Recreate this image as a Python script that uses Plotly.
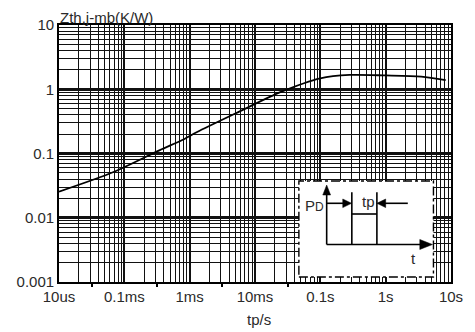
import plotly.graph_objects as go

# Data (pulse width in seconds, Zth in K/W)
tp = [1e-5, 7e-5, 3.5e-4, 7.7e-4, 1.3e-3, 5.1e-3, 0.0255, 0.1, 0.28, 1.0, 3.5, 8.3]
zth = [0.0255, 0.052, 0.113, 0.162, 0.216, 0.423, 0.916, 1.48, 1.67, 1.64, 1.57, 1.39]

x_tickvals = [1e-5, 1e-4, 1e-3, 1e-2, 1e-1, 1, 10]
x_ticktext = ["10us", "0.1ms", "1ms", "10ms", "0.1s", "1s", "10s"]
x_small_ticks = [3.16e-5, 3.16e-4, 3.16e-3, 3.16e-2]
y_tickvals = [0.001, 0.01, 0.1, 1, 10]
y_ticktext = ["0.001", "0.01", "0.1", "1", "10"]

W, H = 475, 332
L, R, T, B = 59, 14, 25, 50
PW, PH = W - L - R, H - T - B


def px(x):
    return (x - L) / PW


def py(y):
    return (H - B - y) / PH


FONT = "Liberation Sans, Arial, sans-serif"
TXT = "#2a2a2a"
GRID = "#111111"

fig = go.Figure()
fig.add_trace(go.Scatter(x=tp, y=zth, mode="lines",
                         line=dict(color="black", width=1.8, shape="spline", smoothing=0.8),
                         hoverinfo="skip", showlegend=False))
# invisible trace to carry the small tick-mark axis
fig.add_trace(go.Scatter(x=[x_small_ticks[0]], y=[1], xaxis="x2", mode="markers",
                         marker=dict(opacity=0), hoverinfo="skip", showlegend=False))

shapes = []
# inset box
shapes.append(dict(type="rect", xref="paper", yref="paper",
                   x0=px(305), x1=px(443), y0=py(277), y1=py(181),
                   fillcolor="white", line=dict(color="black", width=1.4, dash="dashdot"),
                   layer="above"))


def seg(x0, y0, x1, y1, w=1.6):
    shapes.append(dict(type="line", xref="paper", yref="paper",
                       x0=px(x0), y0=py(y0), x1=px(x1), y1=py(y1),
                       line=dict(color="black", width=w), layer="above"))


def tri(pts):
    path = "M " + " L ".join(f"{px(a):.5f},{py(b):.5f}" for a, b in pts) + " Z"
    shapes.append(dict(type="path", xref="paper", yref="paper", path=path,
                       fillcolor="black", line=dict(color="black", width=0.5), layer="above"))


# axes of the pulse diagram
seg(333.5, 244.5, 333.5, 192)
tri([(333.5, 185), (329.5, 195), (337.5, 195)])
seg(333.5, 244.5, 432, 244.5)
tri([(442, 244.5), (429, 239.5), (429, 249.5)])
# pulse
seg(359.3, 244.5, 359.3, 192.3)
seg(385, 244.5, 385, 192.3)
seg(359.3, 214, 385, 214)
# tp arrows
seg(333.5, 203.3, 352, 203.3)
tri([(359, 203.3), (350, 199), (350, 207.6)])
seg(416.7, 203.3, 392, 203.3)
tri([(385, 203.3), (394, 199), (394, 207.6)])

annotations = [
    dict(text="Zth,j-mb(K/W)", xref="paper", yref="paper", x=px(58), y=py(17),
         xanchor="left", yanchor="middle", showarrow=False,
         font=dict(family=FONT, size=15, color=TXT)),
    dict(text="tp/s", xref="paper", yref="paper", x=px(264), y=py(319),
         xanchor="center", yanchor="middle", showarrow=False,
         font=dict(family=FONT, size=15, color=TXT)),
    dict(text="P<span style='font-size:12px'>D</span>", xref="paper", yref="paper",
         x=px(321), y=py(205), xanchor="center", yanchor="middle", showarrow=False,
         font=dict(family=FONT, size=15, color=TXT)),
    dict(text="tp", xref="paper", yref="paper", x=px(376), y=py(201.5),
         xanchor="center", yanchor="middle", showarrow=False,
         font=dict(family=FONT, size=15, color=TXT)),
    dict(text="t", xref="paper", yref="paper", x=px(423), y=py(258),
         xanchor="center", yanchor="middle", showarrow=False,
         font=dict(family=FONT, size=15, color=TXT)),
]

fig.update_layout(
    width=W, height=H,
    margin=dict(l=L, r=R, t=T, b=B),
    paper_bgcolor="white", plot_bgcolor="white",
    shapes=shapes, annotations=annotations,
    font=dict(family=FONT, size=15, color=TXT),
    xaxis=dict(type="log", range=[-5, 1], tickvals=x_tickvals, ticktext=x_ticktext,
               showgrid=True, gridcolor=GRID, gridwidth=1.5,
               minor=dict(dtick="D1", showgrid=True, gridcolor=GRID, gridwidth=1.4, ticks=""),
               showline=True, linecolor="black", linewidth=1.8, mirror=True,
               ticks="", zeroline=False, tickfont=dict(size=15, color=TXT)),
    xaxis2=dict(type="log", range=[-5, 1], overlaying="x", side="bottom",
                tickvals=x_small_ticks, showticklabels=False, ticks="outside",
                ticklen=4, tickwidth=1.5, tickcolor="black",
                showgrid=False, showline=False, zeroline=False),
    yaxis=dict(type="log", range=[-3, 1], tickvals=y_tickvals, ticktext=y_ticktext,
               showgrid=True, gridcolor=GRID, gridwidth=2.6,
               minor=dict(dtick="D1", showgrid=True, gridcolor=GRID, gridwidth=1.4, ticks=""),
               showline=True, linecolor="black", linewidth=1.8, mirror=True,
               ticks="", zeroline=False, tickfont=dict(size=15, color=TXT)),
)

fig.write_html("out.html")
